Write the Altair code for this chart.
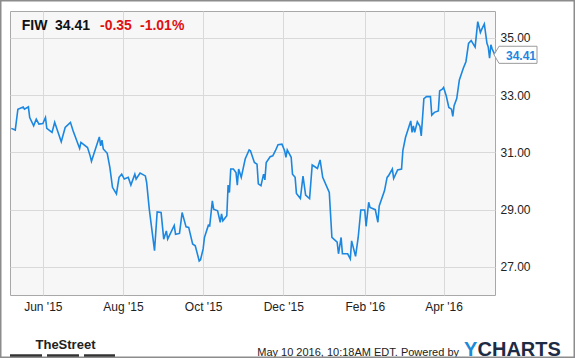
import altair as alt
import pandas as pd

# ---------------- data ----------------
dates = [
    "2015-05-08", "2015-05-11", "2015-05-13", "2015-05-17", "2015-05-18", "2015-05-21", "2015-05-22",
    "2015-05-25", "2015-05-27", "2015-05-29",
    "2015-06-01", "2015-06-03", "2015-06-04", "2015-06-08", "2015-06-10", "2015-06-15", "2015-06-18",
    "2015-06-22", "2015-06-24", "2015-06-29", "2015-06-30",
    "2015-07-05", "2015-07-07", "2015-07-08", "2015-07-14", "2015-07-15", "2015-07-16", "2015-07-17",
    "2015-07-20", "2015-07-22", "2015-07-24", "2015-07-27", "2015-07-29", "2015-07-31",
    "2015-08-02", "2015-08-05", "2015-08-07", "2015-08-10", "2015-08-11", "2015-08-14", "2015-08-18",
    "2015-08-19", "2015-08-21", "2015-08-25", "2015-08-27", "2015-08-30",
    "2015-09-01", "2015-09-03", "2015-09-04", "2015-09-09", "2015-09-10", "2015-09-13", "2015-09-15",
    "2015-09-18", "2015-09-20", "2015-09-23", "2015-09-25", "2015-09-28", "2015-09-29",
    "2015-10-01", "2015-10-02", "2015-10-05", "2015-10-06", "2015-10-08", "2015-10-09", "2015-10-12",
    "2015-10-14", "2015-10-15", "2015-10-16", "2015-10-19", "2015-10-20", "2015-10-21", "2015-10-22",
    "2015-10-24", "2015-10-26", "2015-10-27", "2015-10-28", "2015-10-30",
    "2015-11-02", "2015-11-05", "2015-11-06", "2015-11-09", "2015-11-11", "2015-11-12", "2015-11-14",
    "2015-11-16", "2015-11-17", "2015-11-18", "2015-11-21", "2015-11-23", "2015-11-25", "2015-11-27",
    "2015-11-30",
    "2015-12-02", "2015-12-03", "2015-12-04", "2015-12-07", "2015-12-08", "2015-12-10", "2015-12-11",
    "2015-12-14", "2015-12-16", "2015-12-18", "2015-12-21", "2015-12-23", "2015-12-27", "2015-12-29",
    "2015-12-31",
    "2016-01-05", "2016-01-07", "2016-01-11", "2016-01-12", "2016-01-14", "2016-01-15", "2016-01-19",
    "2016-01-21", "2016-01-22", "2016-01-25", "2016-01-27", "2016-01-29",
    "2016-02-01", "2016-02-02", "2016-02-04", "2016-02-05", "2016-02-09", "2016-02-11", "2016-02-12",
    "2016-02-16", "2016-02-18", "2016-02-19", "2016-02-22", "2016-02-23", "2016-02-26", "2016-02-29",
    "2016-03-01", "2016-03-03", "2016-03-07", "2016-03-08", "2016-03-09", "2016-03-10", "2016-03-12",
    "2016-03-14", "2016-03-15", "2016-03-17", "2016-03-19", "2016-03-22", "2016-03-23", "2016-03-25",
    "2016-03-28", "2016-03-29", "2016-03-31",
    "2016-04-01", "2016-04-03", "2016-04-05", "2016-04-07", "2016-04-08", "2016-04-09", "2016-04-11",
    "2016-04-13", "2016-04-16", "2016-04-18", "2016-04-20", "2016-04-22", "2016-04-25", "2016-04-27",
    "2016-04-29", "2016-04-30",
    "2016-05-02", "2016-05-04", "2016-05-05", "2016-05-06", "2016-05-07", "2016-05-08", "2016-05-10",
]
prices = [
    31.84, 31.78, 32.51, 32.59, 32.51, 32.59, 32.22, 31.93, 32.16, 31.99,
    32.01, 32.22, 31.84, 31.70, 32.05, 31.37, 31.87, 32.05, 31.76, 31.14, 31.35,
    31.17, 30.88, 30.69, 31.54, 31.23, 31.43, 31.12, 30.97, 30.48, 29.78, 29.55, 30.13, 30.24,
    30.07, 30.13, 29.86, 30.24, 30.07, 30.28, 30.18, 29.95, 29.02, 27.57, 28.92, 28.90,
    27.97, 28.26, 27.97, 28.45, 28.14, 28.17, 28.90, 28.40, 28.38, 27.80, 27.74, 27.21, 27.25,
    27.63, 28.03, 28.46, 28.44, 29.31, 29.02, 28.96, 28.56, 28.85, 28.61, 28.79, 29.86, 29.60, 30.42,
    30.42, 30.30, 29.86, 30.42, 30.13,
    30.77, 31.09, 31.06, 30.65, 30.59, 29.90, 29.84, 30.24, 30.04, 30.65, 30.85, 30.88, 31.06, 31.27,
    31.29,
    31.06, 30.83, 31.09, 30.83, 30.24, 30.13, 29.57, 29.39, 30.17, 29.51, 29.39, 30.56, 30.44, 30.74,
    30.13,
    29.60, 28.03, 27.87, 27.46, 28.03, 27.46, 27.46, 27.28, 27.91, 27.37, 28.03, 28.99,
    28.99, 28.42, 29.26, 29.08, 29.00, 28.56, 29.13, 29.66, 30.13, 30.18, 30.42, 30.09, 30.39, 30.42,
    31.06, 31.52, 32.10, 31.70, 31.93, 31.70, 32.07, 31.91, 31.58, 32.88, 32.95, 32.95, 32.30, 32.40,
    32.45, 33.15, 33.21,
    33.27, 32.98, 32.57, 32.51, 32.26, 32.63, 32.88, 33.53, 33.94, 34.17, 34.81, 34.91, 34.68, 35.57,
    35.19, 35.30,
    35.49, 34.81, 34.68, 34.29, 34.76, 34.61, 34.41,
]

ticker = "FIW"
last_price = "34.41"
change = "-0.35"
change_pct = "-1.01%"
y_tick_values = [27, 29, 31, 33, 35]
x_tick_months = [(2015, 6), (2015, 8), (2015, 10), (2015, 12), (2016, 2), (2016, 4)]
footer_text = "May 10 2016, 10:18AM EDT.  Powered by"
brand_a = "Y"
brand_b = "CHARTS"
street_logo = "TheStreet"

df = pd.DataFrame({"date": dates, "price": prices})
last_df = df.iloc[[-1]]

# ---------------- styling ----------------
W, H = 485, 284
FONT = "Liberation Sans"
LINE = "#1b87e0"

x_scale = alt.Scale(
    type="utc",
    domain=[
        alt.DateTime(year=2015, month=5, date=7, utc=True),
        alt.DateTime(year=2016, month=5, date=10, hours=3, utc=True),
    ],
)
y_scale = alt.Scale(domain=[26.02, 35.94], nice=False, zero=False)

x_enc = alt.X(
    "date:T",
    scale=x_scale,
    axis=alt.Axis(
        values=[alt.DateTime(year=y, month=m, date=1, utc=True) for y, m in x_tick_months],
        format="%b '%y",
        title=None,
        ticks=False,
        tickSize=0,
        domain=False,
        labelPadding=6,
        labelFont=FONT,
        labelFontSize=12,
        labelColor="#222222",
        gridColor="#d9d9d9",
        gridWidth=1,
        labelFlush=False,
        labelOverlap=False,
    ),
)
y_enc = alt.Y(
    "price:Q",
    scale=y_scale,
    axis=alt.Axis(
        orient="right",
        values=y_tick_values,
        format=".2f",
        title=None,
        ticks=False,
        tickSize=0,
        domain=False,
        labelPadding=5,
        labelFont=FONT,
        labelFontSize=12,
        labelColor="#222222",
        gridColor="#d9d9d9",
        gridWidth=1,
        labelFlush=False,
    ),
)

line = alt.Chart(df).mark_line(color=LINE, strokeWidth=1.6).encode(x=x_enc, y=y_enc)

# price callout box on the right
callout_box = alt.Chart(last_df).mark_point(
    shape="M-1.26,0 L-1,-0.45 L1,-0.45 L1,0.45 L-1,0.45 Z",
    size=1444,
    filled=True,
    fill="white",
    stroke="#9a9a9a",
    strokeWidth=1,
    opacity=1,
).encode(x=alt.value(508), y=y_enc)
callout_text = alt.Chart(last_df).mark_text(
    font=FONT, fontSize=12, fontWeight="bold", color=LINE, align="center", baseline="middle", dy=1
).encode(x=alt.value(511), y=y_enc, text=alt.Text("price:Q", format=".2f"))


def label(txt, x, y, size=12, weight="normal", color="#222222", align="left", font=FONT):
    return alt.Chart(pd.DataFrame({"t": [txt]})).mark_text(
        font=font, fontSize=size, fontWeight=weight, color=color, align=align, baseline="alphabetic"
    ).encode(x=alt.value(x), y=alt.value(y), text="t:N")


header = (
    label(ticker, 11.7, 18.5, 14, "bold", "#111111")
    + label(last_price, 45, 18.5, 14, "bold", "#111111")
    + label(change, 90, 18.5, 14, "bold", "#e01010")
    + label(change_pct, 130, 18.5, 14, "bold", "#e01010")
)

footer = (
    label(footer_text, 449, 344.5, 11, "normal", "#222222", "right")
    + label(brand_a, 454, 344.5, 20, "bold", "#1c8ad8")
    + label(brand_b, 467.5, 344.5, 20, "bold", "#1d2b45")
    + label(street_logo, 25.5, 337.5, 13, "bold", "#222222", "left")
)

bars = (
    alt.Chart(pd.DataFrame({"k": [0]})).mark_rule(color="#333333", strokeWidth=3.5).encode(
        x=alt.value(0), x2=alt.value(32), y=alt.value(345))
    + alt.Chart(pd.DataFrame({"k": [0]})).mark_rule(color="#333333", strokeWidth=3.5).encode(
        x=alt.value(37), x2=alt.value(69), y=alt.value(345))
    + alt.Chart(pd.DataFrame({"k": [0]})).mark_rule(color="#333333", strokeWidth=3.5).encode(
        x=alt.value(74), x2=alt.value(105), y=alt.value(345))
)

outer = alt.Chart(pd.DataFrame({"k": [0]})).mark_rect(
    fill="transparent", stroke="#8c8c8c", strokeWidth=1.5
).encode(x=alt.value(-9.25), x2=alt.value(564.25), y=alt.value(-10.25), y2=alt.value(346.25))

chart = (
    alt.layer(line, callout_box, callout_text, header, footer, bars, outer)
    .properties(
        width=W,
        height=H,
        autosize=alt.AutoSizeParams(type="none"),
        padding={"left": 10, "top": 11, "right": 80, "bottom": 63},
        background="white",
    )
    .configure_view(fill="#f7f7f7", stroke="#a8a8a8", strokeWidth=1)
)

chart.save("out.html", embed_options={"renderer": "svg", "actions": False})
